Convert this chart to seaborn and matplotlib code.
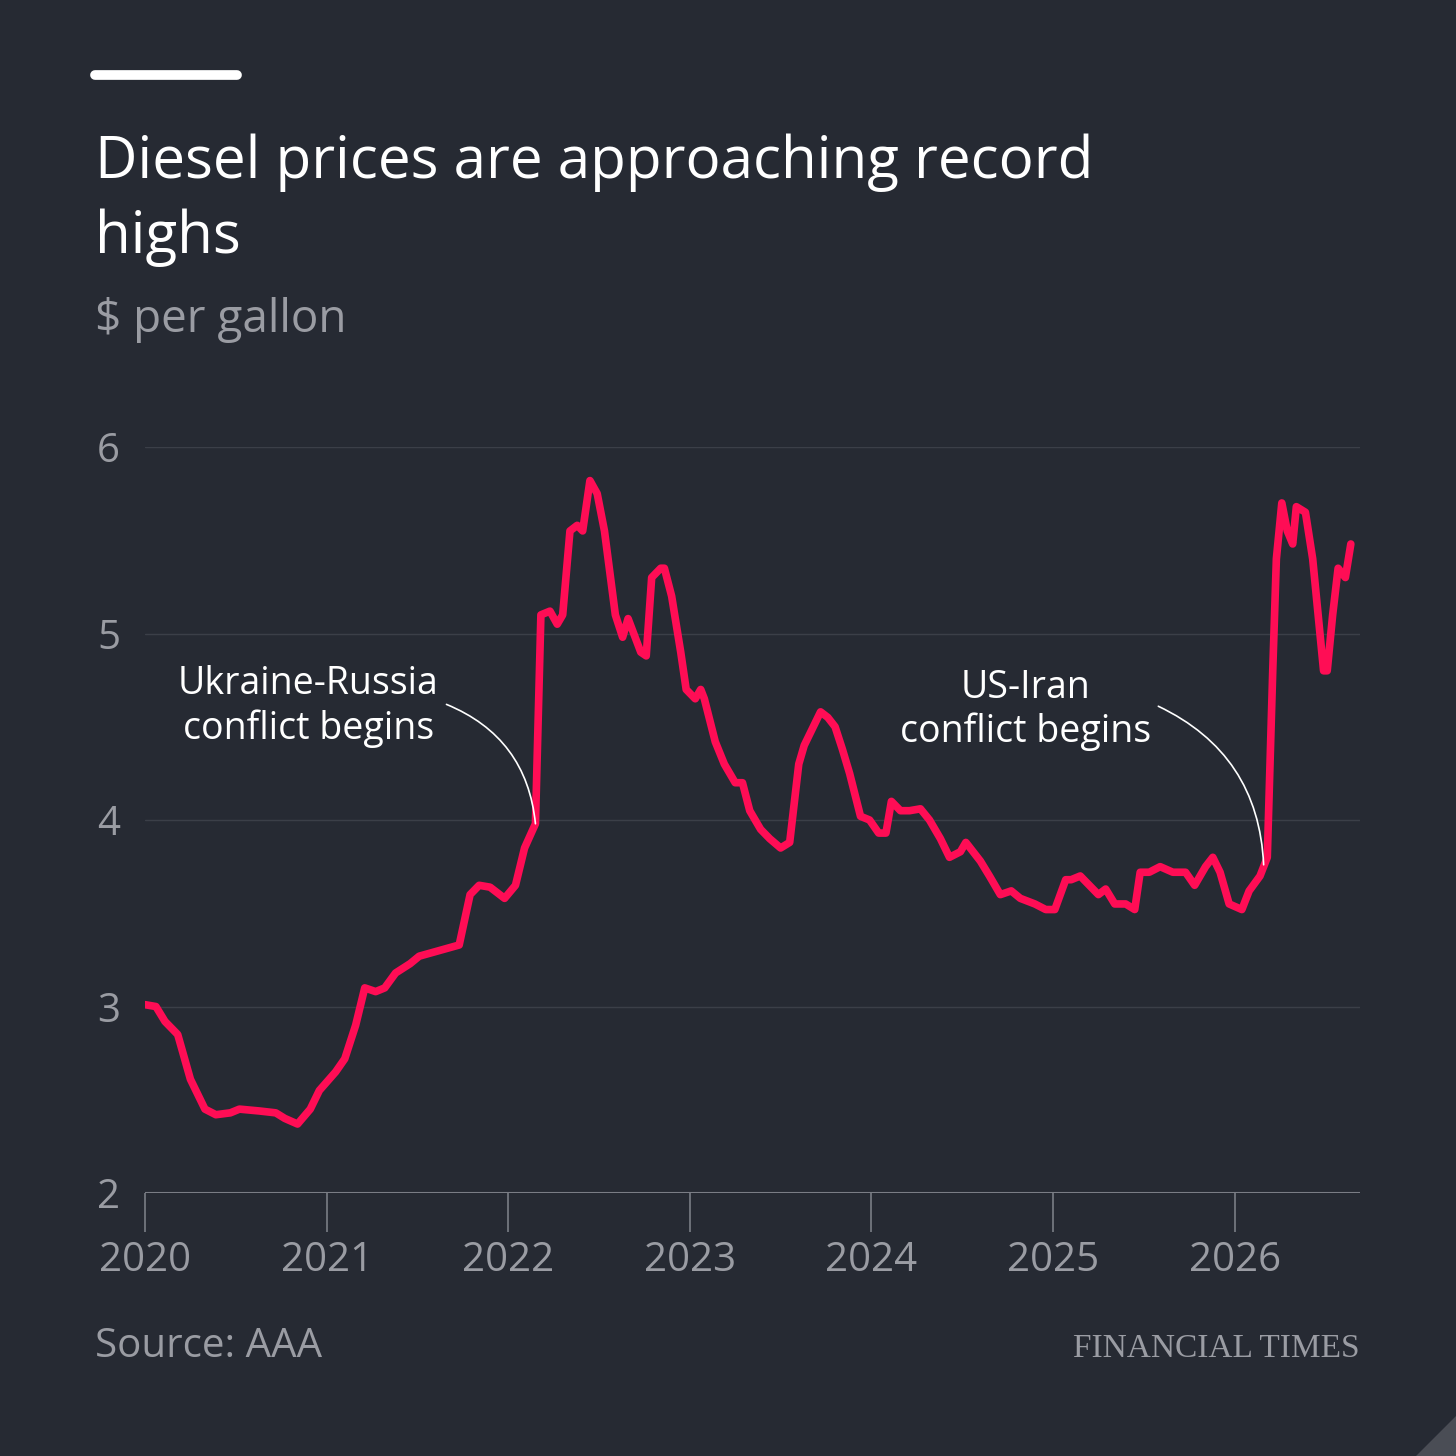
import matplotlib
matplotlib.use("Agg")
import matplotlib.pyplot as plt
import seaborn as sns
import pandas as pd

years = [2020.00, 2020.06, 2020.11, 2020.18, 2020.25, 2020.33, 2020.39, 2020.47, 2020.52, 2020.63,
         2020.72, 2020.77, 2020.84, 2020.91, 2020.96, 2021.05, 2021.10, 2021.16, 2021.21, 2021.27,
         2021.32, 2021.38, 2021.46, 2021.51, 2021.62, 2021.73, 2021.79, 2021.84, 2021.90, 2021.98,
         2022.04, 2022.09, 2022.15, 2022.18, 2022.23, 2022.27, 2022.30, 2022.34, 2022.38, 2022.41,
         2022.45, 2022.49, 2022.53, 2022.59, 2022.63, 2022.66, 2022.73, 2022.76, 2022.79, 2022.84,
         2022.86, 2022.90, 2022.95, 2022.98, 2023.03, 2023.06, 2023.08, 2023.14, 2023.19, 2023.25,
         2023.29, 2023.33, 2023.39, 2023.44, 2023.50, 2023.55, 2023.60, 2023.63, 2023.67, 2023.72,
         2023.76, 2023.80, 2023.84, 2023.88, 2023.94, 2023.99, 2024.04, 2024.08, 2024.11, 2024.16,
         2024.21, 2024.27, 2024.32, 2024.38, 2024.43, 2024.49, 2024.52, 2024.60, 2024.65, 2024.71,
         2024.77, 2024.82, 2024.90, 2024.96, 2025.01, 2025.07, 2025.10, 2025.15, 2025.20, 2025.25,
         2025.29, 2025.34, 2025.40, 2025.45, 2025.48, 2025.53, 2025.59, 2025.66, 2025.73, 2025.78,
         2025.84, 2025.88, 2025.92, 2025.97, 2026.04, 2026.08, 2026.14, 2026.18, 2026.21, 2026.23,
         2026.26, 2026.29, 2026.32, 2026.34, 2026.39, 2026.43, 2026.46, 2026.49, 2026.51, 2026.54,
         2026.57, 2026.61, 2026.64]
price = [3.01, 3.00, 2.92, 2.85, 2.61, 2.45, 2.42, 2.43, 2.45, 2.44,
         2.43, 2.40, 2.37, 2.45, 2.55, 2.65, 2.72, 2.90, 3.10, 3.08,
         3.10, 3.18, 3.23, 3.27, 3.30, 3.33, 3.60, 3.65, 3.64, 3.58,
         3.65, 3.85, 3.98, 5.10, 5.12, 5.05, 5.10, 5.55, 5.58, 5.55,
         5.82, 5.75, 5.55, 5.10, 4.98, 5.08, 4.90, 4.88, 5.30, 5.35,
         5.35, 5.20, 4.90, 4.70, 4.65, 4.70, 4.65, 4.42, 4.30, 4.20,
         4.20, 4.05, 3.95, 3.90, 3.85, 3.88, 4.30, 4.40, 4.48, 4.58,
         4.55, 4.50, 4.38, 4.25, 4.02, 4.00, 3.93, 3.93, 4.10, 4.05,
         4.05, 4.06, 4.00, 3.90, 3.80, 3.83, 3.88, 3.78, 3.70, 3.60,
         3.62, 3.58, 3.55, 3.52, 3.52, 3.68, 3.68, 3.70, 3.65, 3.60,
         3.63, 3.55, 3.55, 3.52, 3.72, 3.72, 3.75, 3.72, 3.72, 3.65,
         3.75, 3.80, 3.72, 3.55, 3.52, 3.62, 3.70, 3.80, 4.80, 5.40,
         5.70, 5.55, 5.48, 5.68, 5.65, 5.40, 5.10, 4.80, 4.80, 5.10,
         5.35, 5.30, 5.48]
year_ticks = [2020, 2021, 2022, 2023, 2024, 2025, 2026]
price_ticks = [2, 3, 4, 5, 6]

# annotation: label text, label position, connector start, connector end (data units)
notes = [
    ("Ukraine-Russia\nconflict begins", (2020.9, 4.61), (2021.66, 4.62), (2022.15, 3.98)),
    ("US-Iran\nconflict begins", (2024.85, 4.59), (2025.58, 4.61), (2026.16, 3.76)),
]

BG = "#262a33"
PINK = "#ff0d55"
GREY = "#9a9ca3"
FONT = ["Open Sans", "DejaVu Sans"]

sns.set_theme(style="dark")
plt.rcParams["font.family"] = FONT

df = pd.DataFrame({"year": years, "price": price})
fig = plt.figure(figsize=(14.56, 14.56), dpi=100, facecolor=BG)
ax = fig.add_axes([0.0996, 0.1806, 0.8344, 0.5124])
ax.set_facecolor(BG)
sns.lineplot(data=df, x="year", y="price", ax=ax, color=PINK, lw=5.5,
             solid_joinstyle="round", solid_capstyle="round")

ax.set_xlim(2020, 2026.69)
ax.set_ylim(2, 6)
for v in price_ticks[1:]:
    ax.axhline(v, color="#3b3f48", lw=1, zorder=0)
ax.axhline(2, color="#7a7d85", lw=1.5, zorder=1)
for s in ax.spines.values():
    s.set_visible(False)
ax.set_xticks(year_ticks)
ax.set_yticks(price_ticks)
ax.tick_params(axis="x", bottom=True, length=28, width=1.2, color="#7a7d85",
               labelcolor=GREY, labelsize=29, pad=6, direction="out")
ax.tick_params(axis="y", length=0, labelcolor=GREY, labelsize=29, pad=18)
ax.set_xlabel("")
ax.set_ylabel("")
ax.grid(False)

for label, txt_pos, start, end in notes:
    ax.text(txt_pos[0], txt_pos[1], label, ha="center", va="center", color="white",
            fontsize=27, linespacing=1.2)
    ax.annotate("", xy=end, xytext=start,
                arrowprops=dict(arrowstyle="-", color="white", lw=1.2,
                                connectionstyle="arc3,rad=-0.3", shrinkA=0, shrinkB=0))

fig.add_artist(plt.Line2D([95/1456, 237/1456], [1-75/1456]*2, color="white", lw=7))
fig.text(95/1456, 1-134/1456, "Diesel prices are approaching record\nhighs", color="white",
         fontsize=42, va="top", ha="left", linespacing=1.35)
fig.text(95/1456, 1-320/1456, "$ per gallon", color=GREY, fontsize=33, va="center")
fig.text(95/1456, 1-1347/1456, "Source: AAA", color=GREY, fontsize=29, va="center")
fig.text(1360/1456, 1-1349/1456, "FINANCIAL TIMES", color=GREY, fontsize=24, va="center",
         ha="right", family="Liberation Serif")
fig.add_artist(plt.Polygon([[1456/1456, 1-1416/1456], [1456/1456, 0], [1416/1456, 0]],
                           closed=True, color="#4a4d55", transform=fig.transFigure))

fig.savefig("out.png", dpi=100, facecolor=BG)
